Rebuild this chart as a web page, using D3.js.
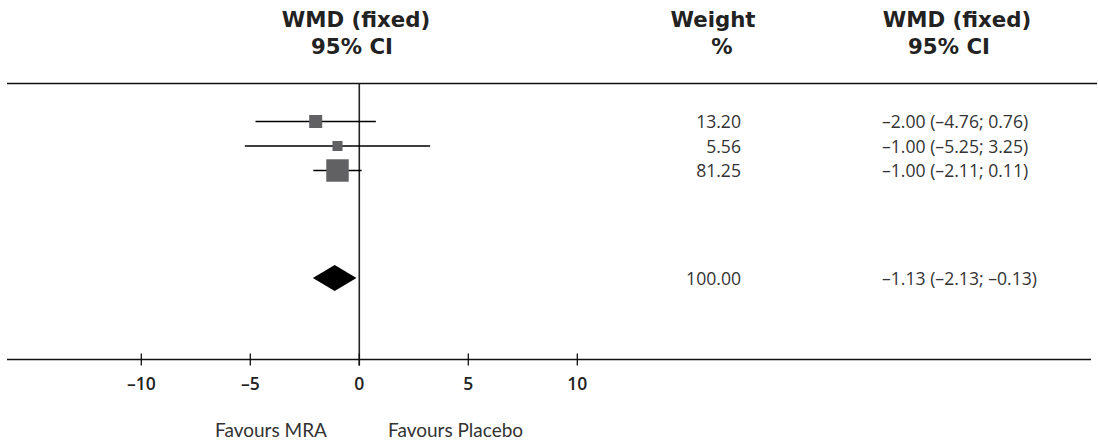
<!DOCTYPE html>
<html><head><meta charset="utf-8">
<script src="https://cdn.jsdelivr.net/npm/d3@7"></script>
<style>
html,body{margin:0;padding:0;background:#fff;}
svg{display:block;}
</style></head>
<body>
<svg id="chart" width="1098" height="443"></svg>
<script>
// ---- data ----
const studies = ["Study 1", "Study 2", "Study 3"];
const estimates = [-2.00, -1.00, -1.00];
const lowers = [-4.76, -5.25, -2.11];
const uppers = [0.76, 3.25, 0.11];
const weights = [13.20, 5.56, 81.25];
const weightLabels = ["13.20", "5.56", "81.25"];
const ciLabels = ["\u20132.00 (\u20134.76; 0.76)", "\u20131.00 (\u20135.25; 3.25)", "\u20131.00 (\u20132.11; 0.11)"];
const pooled = {est: -1.13, lo: -2.13, hi: -0.13, weight: "100.00", label: "\u20131.13 (\u20132.13; \u20130.13)"};
const tickValues = [-10, -5, 0, 5, 10];
const headers = [["WMD (fixed)", "95% CI"], ["Weight", "%"], ["WMD (fixed)", "95% CI"]];
const favourLabels = ["Favours MRA", "Favours Placebo"];

// ---- layout ----
const svg = d3.select("#chart");
const x = d3.scaleLinear().domain([-10, 10]).range([141.3, 577.3]);
const y = d3.scaleLinear().domain([0, 1]).range([121.5, 146]);
const size = d3.scalePow().exponent(0.3).domain([0, 1]).range([0, 6]);
const axisY = 359.5, topY = 83.5, pooledY = 278;
const textFont = "'Open Sans', sans-serif";
const headFont = "'DejaVu Sans', sans-serif";

// header texts
const headX = [[356, 352], [713, 722], [957, 949]];
headers.forEach((h, i) => {
  h.forEach((t, j) => {
    svg.append("text").attr("x", headX[i][j]).attr("y", j === 0 ? 26.5 : 54)
      .attr("text-anchor", "middle").attr("font-family", headFont)
      .attr("font-weight", "bold").attr("font-size", 21.3).attr("fill", "#222")
      .text(t);
  });
});

// top rule
svg.append("line").attr("x1", 7).attr("x2", 1097).attr("y1", topY).attr("y2", topY)
  .attr("stroke", "#111").attr("stroke-width", 1.6);

// zero line
svg.append("line").attr("x1", x(0)).attr("x2", x(0)).attr("y1", topY).attr("y2", axisY + 6)
  .attr("stroke", "#222").attr("stroke-width", 1.6);

// CI lines
const g = svg.append("g");
g.selectAll("line.ci").data(studies).join("line").attr("class", "ci")
  .attr("x1", (d, i) => x(lowers[i])).attr("x2", (d, i) => x(uppers[i]))
  .attr("y1", (d, i) => y(i)).attr("y2", (d, i) => y(i))
  .attr("stroke", "#000").attr("stroke-width", 1.3);

// squares
g.selectAll("rect.sq").data(studies).join("rect").attr("class", "sq")
  .attr("x", (d, i) => x(estimates[i]) - size(weights[i]) / 2)
  .attr("y", (d, i) => y(i) - size(weights[i]) / 2)
  .attr("width", (d, i) => size(weights[i]))
  .attr("height", (d, i) => size(weights[i]))
  .attr("fill", "#616164");

// pooled diamond
const dh = 13;
svg.append("path")
  .attr("d", `M${x(pooled.lo)},${pooledY} L${x(pooled.est)},${pooledY - dh} L${x(pooled.hi)},${pooledY} L${x(pooled.est)},${pooledY + dh} Z`)
  .attr("fill", "#000");

// right columns
const fs = 17.6;
g.selectAll("text.w").data(studies).join("text").attr("class", "w")
  .attr("x", 741).attr("y", (d, i) => y(i) + 6.5).attr("text-anchor", "end")
  .attr("font-family", textFont).attr("font-size", fs).attr("fill", "#333")
  .text((d, i) => weightLabels[i]);
g.selectAll("text.c").data(studies).join("text").attr("class", "c")
  .attr("x", 882).attr("y", (d, i) => y(i) + 6.5).attr("text-anchor", "start")
  .attr("font-family", textFont).attr("font-size", fs).attr("fill", "#333")
  .text((d, i) => ciLabels[i]);
svg.append("text").attr("x", 741).attr("y", pooledY + 6.5).attr("text-anchor", "end")
  .attr("font-family", textFont).attr("font-size", fs).attr("fill", "#333").text(pooled.weight);
svg.append("text").attr("x", 882).attr("y", pooledY + 6.5).attr("text-anchor", "start")
  .attr("font-family", textFont).attr("font-size", fs).attr("fill", "#333").text(pooled.label);

// x axis
svg.append("line").attr("x1", 7).attr("x2", 1091).attr("y1", axisY).attr("y2", axisY)
  .attr("stroke", "#111").attr("stroke-width", 1.4);
const ax = svg.append("g");
ax.selectAll("line.tk").data(tickValues).join("line").attr("class", "tk")
  .attr("x1", d => x(d)).attr("x2", d => x(d))
  .attr("y1", axisY - 6).attr("y2", axisY + 6)
  .attr("stroke", "#111").attr("stroke-width", 1.3);
ax.selectAll("text.tl").data(tickValues).join("text").attr("class", "tl")
  .attr("x", d => x(d)).attr("y", 389.5).attr("text-anchor", "middle")
  .attr("font-family", textFont).attr("font-weight", 600).attr("font-size", 17.5).attr("fill", "#222")
  .text(d => (d < 0 ? "\u2013" : "") + Math.abs(d));

// favours labels
svg.append("text").attr("x", 215).attr("y", 436.5).attr("font-family", "Lato, sans-serif")
  .attr("font-size", 19).attr("fill", "#333").text(favourLabels[0]);
svg.append("text").attr("x", 388).attr("y", 436.5).attr("font-family", "Lato, sans-serif")
  .attr("font-size", 19).attr("fill", "#333").text(favourLabels[1]);
</script>
</body></html>
